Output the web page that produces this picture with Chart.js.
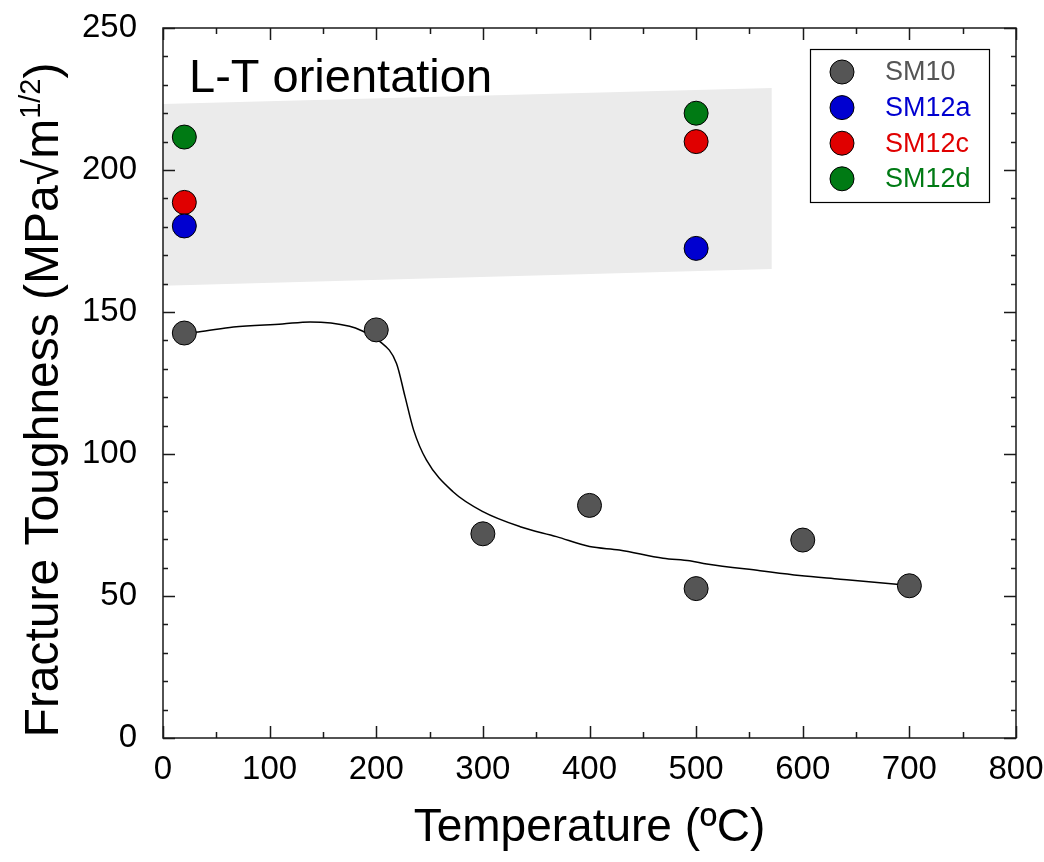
<!DOCTYPE html>
<html>
<head>
<meta charset="utf-8">
<script src="https://cdn.jsdelivr.net/npm/chart.js@4/dist/chart.umd.min.js"></script>
<style>
  html, body { margin: 0; padding: 0; background: #fff; }
  #wrap { width: 1044px; height: 862px; position: relative; }
</style>
</head>
<body>
<div id="wrap"><canvas id="chart"></canvas></div>
<script>
// measured values (temperature in ºC, toughness in MPa√m^1/2)
const temps10 = [20, 200, 300, 400, 500, 600, 700];
const sm10 = [142.6, 143.7, 71.9, 81.9, 52.6, 69.7, 53.6];

const temps12 = [20, 500];
const sm12a = [180.3, 172.4];
const sm12c = [188.6, 210.0];
const sm12d = [211.6, 220.0];

// hand-drawn trend line through SM10
const curveT = [20, 33, 66, 112, 138, 175, 187, 202, 219, 227, 235, 247, 272, 300, 335, 369, 400, 428, 469, 494, 510, 560, 597, 635, 688, 700];
const curveK = [142.6, 143, 144.7, 145.8, 146.5, 145, 143.3, 140.1, 131.9, 120.2, 108.5, 97.9, 86.7, 79.7, 74.4, 70.9, 67.4, 66.2, 63.3, 62.4, 61.3, 58.9, 57.2, 55.9, 54.1, 53.7];

// grey scatter band for SM12 alloys
const bandT = [0, 571];
const bandTop = [223.2, 228.9];
const bandBottom = [159.2, 165.1];

const xTicks = [0, 100, 200, 300, 400, 500, 600, 700, 800];
const yTicks = [0, 50, 100, 150, 200, 250];

const series = [
  { label: 'SM10', color: '#555555', text: '#555555' },
  { label: 'SM12a', color: '#0000d0', text: '#0000d0' },
  { label: 'SM12c', color: '#e00000', text: '#e00000' },
  { label: 'SM12d', color: '#007a14', text: '#007a14' }
];

const toXY = (xs, ys) => xs.map((x, i) => ({ x: x, y: ys[i] }));

Chart.defaults.font.family = "'Liberation Sans', Arial, Helvetica, sans-serif";
Chart.defaults.color = '#000';

const FONT = "'Liberation Sans', Arial, Helvetica, sans-serif";

// box with inward ticks on all four sides
const framePlugin = {
  id: 'frame',
  afterDatasetsDraw(chart) {
    const { ctx, chartArea: a, scales: { x, y } } = chart;
    ctx.save();
    ctx.strokeStyle = '#1a1a1a';
    ctx.lineWidth = 1.5;
    ctx.beginPath();
    for (let v = 0; v <= 800; v += 50) {
      const px = Math.round(x.getPixelForValue(v)) + 0.5;
      const len = v % 100 === 0 ? 12 : 6;
      ctx.moveTo(px, a.bottom); ctx.lineTo(px, a.bottom - len);
      ctx.moveTo(px, a.top); ctx.lineTo(px, a.top + len);
    }
    for (let v = 0; v <= 250; v += 10) {
      const py = Math.round(y.getPixelForValue(v)) + 0.5;
      const len = v % 50 === 0 ? 12 : 5;
      ctx.moveTo(a.left, py); ctx.lineTo(a.left + len, py);
      ctx.moveTo(a.right, py); ctx.lineTo(a.right - len, py);
    }
    ctx.stroke();
    ctx.strokeRect(a.left, a.top, a.right - a.left, a.bottom - a.top);

    // panel label
    ctx.fillStyle = '#000';
    ctx.font = '47px ' + FONT;
    ctx.textBaseline = 'alphabetic';
    ctx.textAlign = 'left';
    ctx.fillText('L-T orientation', 189, 92);

    // legend
    const lx = 810, ly = 49, lw = 179, lh = 153;
    ctx.fillStyle = '#fff';
    ctx.fillRect(lx, ly, lw, lh);
    ctx.lineWidth = 1.2;
    ctx.strokeStyle = '#000';
    ctx.strokeRect(lx + 0.5, ly + 0.5, lw, lh);
    ctx.font = '27px ' + FONT;
    ctx.textBaseline = 'middle';
    series.forEach((s, i) => {
      const cy = 72 + i * 35.6;
      ctx.beginPath();
      ctx.arc(842, cy, 12, 0, Math.PI * 2);
      ctx.fillStyle = s.color;
      ctx.fill();
      ctx.lineWidth = 1;
      ctx.strokeStyle = '#000';
      ctx.stroke();
      ctx.fillStyle = s.text;
      ctx.fillText(s.label, 885, cy + 1);
    });
    ctx.restore();
  },
  afterDraw(chart) {
    const { ctx } = chart;
    ctx.save();
    // y-axis title with superscript
    ctx.translate(58, 400);
    ctx.rotate(-Math.PI / 2);
    ctx.fillStyle = '#000';
    ctx.textBaseline = 'alphabetic';
    ctx.textAlign = 'left';
    const main = 'Fracture Toughness (MPa\u221Am';
    const sup = '1/2';
    const close = ')';
    ctx.font = '48px ' + FONT;
    const w1 = ctx.measureText(main).width;
    const w3 = ctx.measureText(close).width;
    ctx.font = '29px ' + FONT;
    const w2 = ctx.measureText(sup).width;
    let xpos = -(w1 + w2 + w3) / 2;
    ctx.font = '48px ' + FONT;
    ctx.fillText(main, xpos, 0);
    xpos += w1;
    ctx.font = '29px ' + FONT;
    ctx.fillText(sup, xpos, -18);
    xpos += w2;
    ctx.font = '48px ' + FONT;
    ctx.fillText(close, xpos, 0);
    ctx.restore();

    // x-axis title
    ctx.save();
    ctx.fillStyle = '#000';
    ctx.font = '46px ' + FONT;
    ctx.textAlign = 'center';
    ctx.textBaseline = 'alphabetic';
    const { x } = chart.scales;
    ctx.fillText('Temperature (\u00BAC)', (x.left + x.right) / 2, 841);
    ctx.restore();
  }
};

const pointSet = (s, xs, ys) => ({
  label: s.label,
  data: toXY(xs, ys),
  backgroundColor: s.color,
  borderColor: '#000',
  borderWidth: 1,
  pointRadius: 12,
  pointHoverRadius: 12,
  order: 1
});

new Chart(document.getElementById('chart'), {
  type: 'scatter',
  data: {
    datasets: [
      {
        type: 'line',
        label: 'band top',
        data: toXY(bandT, bandTop),
        borderWidth: 0,
        borderColor: 'rgba(0,0,0,0)',
        backgroundColor: '#ebebeb',
        pointRadius: 0,
        fill: '+1',
        order: 10
      },
      {
        type: 'line',
        label: 'band bottom',
        data: toXY(bandT, bandBottom),
        borderWidth: 0,
        borderColor: 'rgba(0,0,0,0)',
        pointRadius: 0,
        fill: false,
        order: 10
      },
      {
        type: 'line',
        label: 'trend',
        data: toXY(curveT, curveK),
        borderColor: '#000',
        borderWidth: 1.5,
        pointRadius: 0,
        fill: false,
        cubicInterpolationMode: 'monotone',
        order: 5
      },
      pointSet(series[0], temps10, sm10),
      pointSet(series[1], temps12, sm12a),
      pointSet(series[2], temps12, sm12c),
      pointSet(series[3], temps12, sm12d)
    ]
  },
  options: {
    responsive: true,
    maintainAspectRatio: false,
    animation: false,
    layout: { padding: { top: 28, right: 28, left: 0, bottom: 0 } },
    plugins: {
      legend: { display: false },
      tooltip: { enabled: false },
      title: { display: false }
    },
    scales: {
      x: {
        type: 'linear',
        min: 0,
        max: 800,
        afterBuildTicks: (scale) => { scale.ticks = xTicks.map(v => ({ value: v })); },
        ticks: { font: { size: 33 }, color: '#000', padding: 12, maxRotation: 0 },
        grid: { display: false, drawTicks: false },
        border: { display: false },
        afterFit: (scale) => {
          scale.height = 124;
          scale.paddingLeft = 0;
          scale.paddingRight = 0;
        }
      },
      y: {
        type: 'linear',
        min: 0,
        max: 250,
        afterBuildTicks: (scale) => { scale.ticks = yTicks.map(v => ({ value: v })); },
        ticks: { font: { size: 33 }, color: '#000', padding: 26 },
        grid: { display: false, drawTicks: false },
        border: { display: false },
        afterFit: (scale) => {
          scale.width = 163;
          scale.paddingTop = 0;
          scale.paddingBottom = 0;
        }
      }
    }
  },
  plugins: [framePlugin]
});
</script>
</body>
</html>
